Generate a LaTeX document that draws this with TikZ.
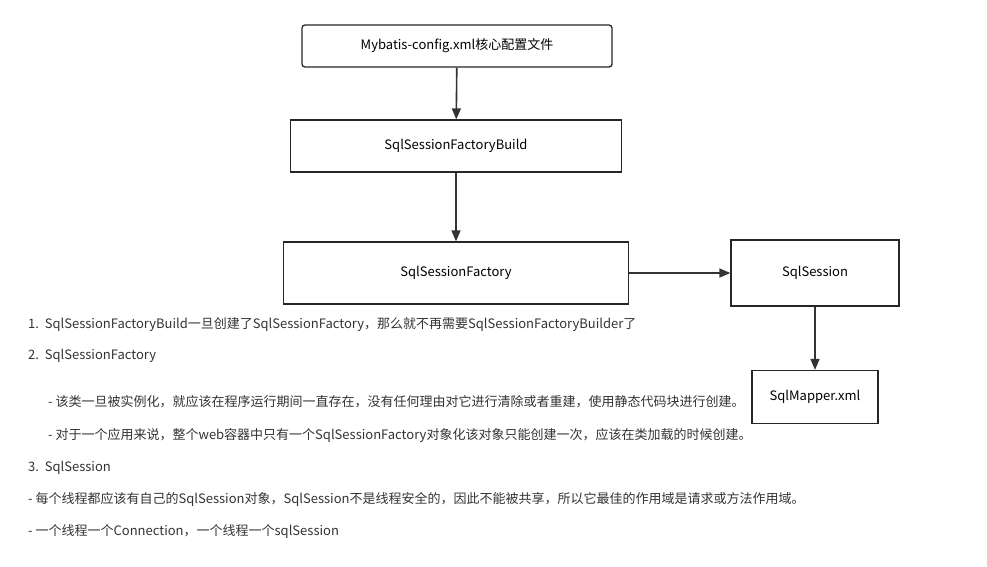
\documentclass[tikz,border=0pt]{standalone}
\usepackage{fontspec}
\setmainfont{Noto Sans CJK SC}
\usetikzlibrary{arrows.meta}

\tikzset{
  box/.style={draw=black!85, line width=1.3pt, inner sep=0pt},
  flow/.style={->, draw=black!80, line width=1.6pt},
  note/.style={anchor=base west, inner sep=0pt, text=black!80}
}

\begin{document}
\begin{tikzpicture}[x=1pt, y=-1pt, >={Triangle[length=11pt,width=9pt]},
    every node/.style={font=\fontsize{13}{16}\selectfont}]
    \useasboundingbox (0,0) rectangle (987,566);
    \node[box, rounded corners=3pt, minimum width=310pt, minimum height=42pt] (Config) at (457,46) {Mybatis-config.xml核心配置文件};
    \node[box, minimum width=331pt, minimum height=52pt] (Builder) at (456,146) {SqlSessionFactoryBuild};
    \node[box, minimum width=345pt, minimum height=62pt] (Factory) at (456,273) {SqlSessionFactory};
    \node[box, minimum width=168pt, minimum height=66pt] (Session) at (815,273) {SqlSession};
    \node[box, minimum width=126pt, minimum height=53pt] (Mapper) at (815,397) {SqlMapper.xml};
    %
    \draw[flow] (Config) to (Builder);
    \draw[flow] (Builder) to (Factory);
    \draw[flow] (Factory) to (Session);
    \draw[flow] (Session) to (Mapper);
    %
    \node[note] (NoteA) at (28,328) {1.\ \ SqlSessionFactoryBuild一旦创建了SqlSessionFactory，那么就不再需要SqlSessionFactoryBuilder了};
    \node[note] (NoteB) at (28,359) {2.\ \ SqlSessionFactory};
    \node[note] (NoteBa) at (48,406) {- 该类一旦被实例化，就应该在程序运行期间一直存在，没有任何理由对它进行清除或者重建，使用静态代码块进行创建。};
    \node[note] (NoteBb) at (48,439) {- 对于一个应用来说，整个web容器中只有一个SqlSessionFactory对象化该对象只能创建一次，应该在类加载的时候创建。};
    \node[note] (NoteC) at (28,471) {3.\ \ SqlSession};
    \node[note] (NoteCa) at (28,503) {- 每个线程都应该有自己的SqlSession对象，SqlSession不是线程安全的，因此不能被共享，所以它最佳的作用域是请求或方法作用域。};
    \node[note] (NoteCb) at (28,535) {- 一个线程一个Connection，一个线程一个sqlSession};
\end{tikzpicture}
\end{document}
